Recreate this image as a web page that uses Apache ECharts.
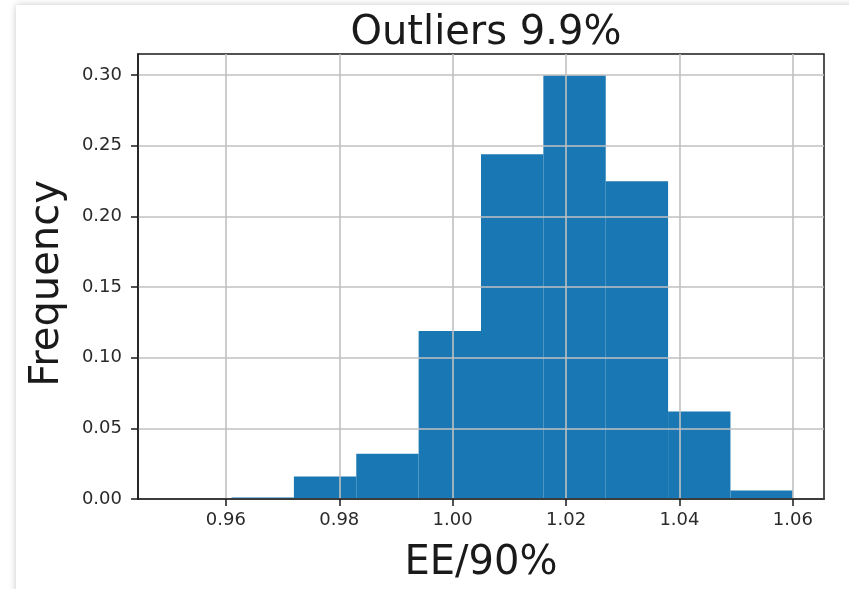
<!DOCTYPE html>
<html>
<head>
<meta charset="utf-8">
<title>Outliers 9.9%</title>
<script src="https://cdn.jsdelivr.net/npm/echarts@6/dist/echarts.min.js"></script>
<style>
  html, body { margin: 0; padding: 0; width: 849px; height: 589px; overflow: hidden; background: #ffffff; }
  #card { position: absolute; left: 16px; top: 5px; width: 900px; height: 700px; background: #ffffff;
          box-shadow: 0 0 7px rgba(0, 0, 0, 0.22); }
  #chart { position: absolute; left: 0; top: 0; width: 849px; height: 589px; }
</style>
</head>
<body>
<div id="card"></div>
<div id="chart"></div>
<script>
// Histogram bin edges (EE/90%) and normalised frequency of each bin
const binEdges = [0.950, 0.961, 0.972, 0.983, 0.994, 1.005, 1.016, 1.027, 1.038, 1.049, 1.060];
const frequencies = [0.000, 0.001, 0.016, 0.032, 0.119, 0.244, 0.300, 0.225, 0.062, 0.006];

// Tick positions on each axis
const xTicks = [0.96, 0.98, 1.00, 1.02, 1.04, 1.06];
const yTicks = [0.00, 0.05, 0.10, 0.15, 0.20, 0.25, 0.30];

const titleText = 'Outliers 9.9%';
const xLabel = 'EE/90%';
const yLabel = 'Frequency';

// Axis range: data extent padded by 5% on each side
const xSpan = binEdges[binEdges.length - 1] - binEdges[0];
const xMin = binEdges[0] - 0.05 * xSpan;
const xMax = binEdges[binEdges.length - 1] + 0.05 * xSpan;
const yMax = Math.max(...frequencies) * 1.05;

const bins = frequencies.map((f, i) => [binEdges[i], binEdges[i + 1], f]);

const FONT = 'DejaVu Sans';
const GRID = '#c0c0c0';
const INK = '#1a1a1a';

const chart = echarts.init(document.getElementById('chart'), null, { renderer: 'canvas' });

chart.setOption({
  backgroundColor: 'transparent',
  animation: false,
  title: {
    text: titleText,
    left: 481,
    top: 9,
    textAlign: 'center',
    textStyle: { fontFamily: FONT, fontSize: 40, fontWeight: 'normal', color: INK }
  },
  grid: {
    left: 138, right: 25, top: 54, bottom: 89,
    show: true, borderColor: INK, borderWidth: 1.5, backgroundColor: 'transparent'
  },
  xAxis: {
    type: 'value',
    min: xMin,
    max: xMax,
    z: 3,
    name: xLabel,
    nameLocation: 'middle',
    nameGap: 45,
    nameTextStyle: { fontFamily: FONT, fontSize: 40, color: INK },
    axisLine: { show: true, lineStyle: { color: INK, width: 1.5 } },
    axisTick: { show: true, length: 7, inside: false, customValues: xTicks, lineStyle: { color: INK, width: 1.5 } },
    axisLabel: {
      customValues: xTicks,
      margin: 12,
      fontFamily: FONT, fontSize: 18, color: '#2a2a2a',
      formatter: v => v.toFixed(2)
    },
    splitLine: { show: true, lineStyle: { color: GRID, width: 1.6 } }
  },
  yAxis: {
    type: 'value',
    min: 0,
    max: yMax,
    z: 3,
    name: yLabel,
    nameLocation: 'middle',
    nameGap: 70,
    nameTextStyle: { fontFamily: FONT, fontSize: 40, color: INK, padding: [0, 14, 0, 0] },
    axisLine: { show: true, lineStyle: { color: INK, width: 1.5 } },
    axisTick: { show: true, length: 7, inside: false, customValues: yTicks, lineStyle: { color: INK, width: 1.5 } },
    axisLabel: {
      customValues: yTicks,
      margin: 16,
      fontFamily: FONT, fontSize: 18, color: '#2a2a2a',
      formatter: v => v.toFixed(2)
    },
    splitLine: { show: true, lineStyle: { color: GRID, width: 1.6 } }
  },
  series: [{
    type: 'custom',
    z: 1,
    data: bins,
    encode: { x: [0, 1], y: 2 },
    renderItem: function (params, api) {
      const p0 = api.coord([api.value(0), 0]);
      const p1 = api.coord([api.value(1), api.value(2)]);
      return {
        type: 'rect',
        shape: { x: p0[0], y: p1[1], width: p1[0] - p0[0], height: p0[1] - p1[1] },
        style: { fill: '#1977b3' }
      };
    }
  }]
});
</script>
</body>
</html>
